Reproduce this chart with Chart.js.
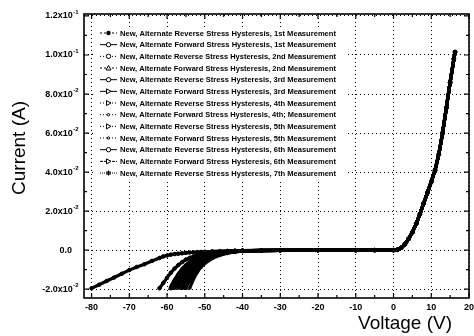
<!DOCTYPE html>
<html><head><meta charset="utf-8">
<script src="https://cdn.jsdelivr.net/npm/chart.js@4.4.1/dist/chart.umd.min.js"></script>
<style>html,body{margin:0;padding:0;background:#fff}</style>
</head><body>
<canvas id="c" width="474" height="336" style="width:474px;height:336px;display:block"></canvas>
<script>
// ---------- DATA ----------
const seriesLabels = [
  'New, Alternate Reverse Stress Hysteresis, 1st Measurement',
  'New, Alternate Forward Stress Hysteresis, 1st Measurement',
  'New, Alternate Reverse Stress Hysteresis, 2nd Measurement',
  'New, Alternate Forward Stress Hysteresis, 2nd Measurement',
  'New, Alternate Reverse Stress Hysteresis, 3rd Measurement',
  'New, Alternate Forward Stress Hysteresis, 3rd Measurement',
  'New, Alternate Reverse Stress Hysteresis, 4th Measurement',
  'New, Alternate Forward Stress Hysteresis, 4th; Measurement',
  'New, Alternate Reverse Stress Hysteresis, 5th Measurement',
  'New, Alternate Forward Stress Hysteresis, 5th Measurement',
  'New, Alternate Reverse Stress Hysteresis, 6th Measurement',
  'New, Alternate Forward Stress Hysteresis, 6th Measurement',
  'New, Alternate Reverse Stress Hysteresis, 7th Measurement'
];
const xTickValues = [-80,-70,-60,-50,-40,-30,-20,-10,0,10,20];
const xTickLabels = ['-80','-70','-60','-50','-40','-30','-20','-10','0','10','20'];
const yTickValues = [-0.02,0,0.02,0.04,0.06,0.08,0.10,0.12];
const yTickMantissa = ['-2.0x10','0.0','2.0x10','4.0x10','6.0x10','8.0x10','1.0x10','1.2x10'];
const yTickExponent = ['-2','','-2','-2','-2','-2','-1','-1'];

// reverse-bias voltages (V)
const reverseVoltage = [-80,-78,-76,-74,-72,-70,-68,-66,-64,-62,-61,-60,-59,-58,-57,-56,-55,-54,-53,-52,-51,-50,-48,-46,-44,-42,-40,-35,-30,-20,-10];
const _ = null;
// reverse-bias currents (A), one array per measurement
const rev01 = [-0.0195,-0.0177,-0.0158,-0.0140,-0.0121,-0.0102,-0.0086,-0.0072,-0.0055,-0.0040,-0.0032,-0.0027,-0.0023,-0.0020,-0.0018,-0.0016,-0.0014,-0.0012,-0.0011,-0.0010,-0.0009,-0.0008,-0.0006,-0.0005,-0.0004,-0.0003,-0.0002,-0.0001,-0.00006,-0.00003,-0.00001];
const rev02 = [_,_,_,_,_,_,_,_,_,-0.0195,-0.0168,-0.0142,-0.0116,-0.0094,-0.0076,-0.0061,-0.0048,-0.0039,-0.0032,-0.0026,-0.0021,-0.0017,-0.0011,-0.0007,-0.0005,-0.0003,-0.0002,-0.0001,-0.00005,-0.00002,-0.00001];
const rev03 = [_,_,_,_,_,_,_,_,_,_,_,_,-0.0195,-0.0158,-0.0126,-0.0099,-0.0078,-0.0062,-0.0049,-0.0039,-0.0032,-0.0026,-0.0017,-0.0011,-0.0007,-0.0004,-0.0003,-0.0001,-0.00005,-0.00002,-0.00001];
const rev04 = [_,_,_,_,_,_,_,_,_,_,_,_,_,-0.0195,-0.0152,-0.0119,-0.0093,-0.0073,-0.0058,-0.0046,-0.0037,-0.0030,-0.0019,-0.0012,-0.0008,-0.0005,-0.0003,-0.0001,-0.00005,-0.00002,-0.00001];
const rev05 = [_,_,_,_,_,_,_,_,_,_,_,_,_,-0.0190,-0.0160,-0.0130,-0.0104,-0.0082,-0.0064,-0.0050,-0.0040,-0.0032,-0.0020,-0.0013,-0.0008,-0.0005,-0.0003,-0.0001,-0.00005,-0.00002,-0.00001];
const rev06 = [_,_,_,_,_,_,_,_,_,_,_,_,_,_,-0.0195,-0.0155,-0.0122,-0.0095,-0.0075,-0.0059,-0.0047,-0.0038,-0.0024,-0.0015,-0.0009,-0.0006,-0.0004,-0.0002,-0.00008,-0.00003,-0.00001];
const rev07 = [_,_,_,_,_,_,_,_,_,_,_,_,_,_,-0.0185,-0.0160,-0.0132,-0.0106,-0.0084,-0.0066,-0.0052,-0.0041,-0.0026,-0.0016,-0.0010,-0.0006,-0.0004,-0.0002,-0.00008,-0.00003,-0.00001];
const rev08 = [_,_,_,_,_,_,_,_,_,_,_,_,_,_,_,-0.0195,-0.0152,-0.0118,-0.0092,-0.0072,-0.0057,-0.0046,-0.0029,-0.0018,-0.0011,-0.0007,-0.0004,-0.0002,-0.00008,-0.00003,-0.00001];
const rev09 = [_,_,_,_,_,_,_,_,_,_,_,_,_,_,_,-0.0190,-0.0158,-0.0127,-0.0101,-0.0080,-0.0063,-0.0050,-0.0031,-0.0019,-0.0012,-0.0007,-0.0004,-0.0002,-0.00008,-0.00003,-0.00001];
const rev10 = [_,_,_,_,_,_,_,_,_,_,_,_,_,_,_,_,-0.0195,-0.0150,-0.0116,-0.0090,-0.0071,-0.0056,-0.0035,-0.0022,-0.0013,-0.0008,-0.0005,-0.0002,-0.0001,-0.00003,-0.00001];
const rev11 = [_,_,_,_,_,_,_,_,_,_,_,_,_,_,_,_,-0.0188,-0.0155,-0.0124,-0.0098,-0.0077,-0.0061,-0.0038,-0.0023,-0.0014,-0.0008,-0.0005,-0.0002,-0.0001,-0.00003,-0.00001];
const rev12 = [_,_,_,_,_,_,_,_,_,_,_,_,-0.0185,-0.0150,-0.0120,-0.0095,-0.0075,-0.0059,-0.0047,-0.0038,-0.0031,-0.0025,-0.0016,-0.0010,-0.0006,-0.0004,-0.0003,-0.0001,-0.00005,-0.00002,-0.00001];
const rev13 = [_,_,_,_,_,_,_,_,_,_,_,_,_,_,_,_,_,-0.0195,-0.0148,-0.0113,-0.0087,-0.0068,-0.0042,-0.0026,-0.0015,-0.0009,-0.0005,-0.0002,-0.0001,-0.00003,-0.00001];
const reverseCurrents = [rev01,rev02,rev03,rev04,rev05,rev06,rev07,rev08,rev09,rev10,rev11,rev12,rev13];

// forward-bias branch (common to all measurements, they overlap)
const forwardVoltage = [-5,0,1,2,3,4,5,6,7,8,9,10,11,12,13,14,15,16,16.3];
const forwardCurrent = [0,0,0.0002,0.0012,0.0030,0.0058,0.0092,0.0135,0.0185,0.0240,0.0295,0.0350,0.0410,0.0490,0.0600,0.0730,0.0860,0.0980,0.1015];

// ---------- STYLE ----------
const legendStyles = [
  {dash:[2,2], marker:'dotF'},
  {dash:[],    marker:'circle'},
  {dash:[1,2], marker:'circle'},
  {dash:[2,2], marker:'triUp'},
  {dash:[],    marker:'circle'},
  {dash:[],    marker:'triR'},
  {dash:[1,2], marker:'triR'},
  {dash:[1,2], marker:'small'},
  {dash:[1,2], marker:'triR'},
  {dash:[1,2], marker:'small'},
  {dash:[],    marker:'circle'},
  {dash:[3,1], marker:'triR'},
  {dash:[1,1], marker:'star'}
];
const pointStyles = ['circle','circle','circle','triangle','circle','triangle','triangle','rect','triangle','rect','circle','triangle','star'];

const datasets = seriesLabels.map((label, k) => {
  const rev = reverseCurrents[k];
  const pts = [];
  reverseVoltage.forEach((v, i) => { if (rev[i] !== null) pts.push({x: v, y: rev[i]}); });
  forwardVoltage.forEach((v, i) => pts.push({x: v, y: forwardCurrent[i]}));
  return {
    label, data: pts,
    borderColor: '#000', backgroundColor: '#000', borderWidth: 3.2,
    pointStyle: pointStyles[k], pointRadius: 1.8, pointBorderWidth: 1,
    pointBorderColor: '#000', pointBackgroundColor: '#000',
    tension: 0, fill: false
  };
});

function drawMarker(ctx, type, x, y) {
  ctx.save();
  ctx.setLineDash([]);
  ctx.lineWidth = 1;
  ctx.strokeStyle = '#000';
  ctx.fillStyle = '#fff';
  ctx.beginPath();
  if (type === 'dotF') { ctx.fillStyle = '#000'; ctx.arc(x, y, 2.2, 0, Math.PI*2); ctx.fill(); }
  else if (type === 'circle') { ctx.arc(x, y, 2.2, 0, Math.PI*2); ctx.fill(); ctx.stroke(); }
  else if (type === 'triUp') { ctx.moveTo(x, y-2.5); ctx.lineTo(x+2.5, y+2); ctx.lineTo(x-2.5, y+2); ctx.closePath(); ctx.fill(); ctx.stroke(); }
  else if (type === 'triR') { ctx.moveTo(x+2.5, y); ctx.lineTo(x-2, y-2.5); ctx.lineTo(x-2, y+2.5); ctx.closePath(); ctx.fill(); ctx.stroke(); }
  else if (type === 'small') { ctx.arc(x, y, 1.2, 0, Math.PI*2); ctx.fill(); ctx.stroke(); }
  else if (type === 'star') { ctx.moveTo(x-2.5,y); ctx.lineTo(x+2.5,y); ctx.moveTo(x,y-2.5); ctx.lineTo(x,y+2.5); ctx.moveTo(x-2,y-2); ctx.lineTo(x+2,y+2); ctx.moveTo(x+2,y-2); ctx.lineTo(x-2,y+2); ctx.stroke(); }
  ctx.restore();
}

const decor = {
  id: 'decor',
  afterDraw(chart) {
    const ctx = chart.ctx;
    const a = chart.chartArea;
    const xs = chart.scales.x, ys = chart.scales.y;
    ctx.save();
    // frame
    ctx.strokeStyle = '#000';
    ctx.lineWidth = 1.6;
    ctx.setLineDash([]);
    ctx.strokeRect(a.left, a.top, a.right - a.left, a.bottom - a.top);
    // inward ticks
    ctx.lineWidth = 1.2;
    ctx.beginPath();
    for (let v = -80; v <= 20; v += 5) {
      const px = xs.getPixelForValue(v);
      const len = (v % 10 === 0) ? 5 : 3;
      ctx.moveTo(px, a.bottom); ctx.lineTo(px, a.bottom - len);
      ctx.moveTo(px, a.top); ctx.lineTo(px, a.top + len);
    }
    for (let i = -2; i <= 12; i++) {
      const py = ys.getPixelForValue(i / 100);
      const len = (i % 2 === 0) ? 5 : 3;
      ctx.moveTo(a.left, py); ctx.lineTo(a.left + len, py);
      ctx.moveTo(a.right, py); ctx.lineTo(a.right - len, py);
    }
    ctx.stroke();

    ctx.fillStyle = '#000';
    // x tick labels
    ctx.font = 'bold 9px Arial, "Liberation Sans", sans-serif';
    ctx.textAlign = 'center';
    ctx.textBaseline = 'middle';
    xTickValues.forEach((v, i) => ctx.fillText(xTickLabels[i], xs.getPixelForValue(v), a.bottom + 10));
    // y tick labels with superscript exponent
    yTickValues.forEach((v, i) => {
      const py = ys.getPixelForValue(v);
      const main = yTickMantissa[i], ex = yTickExponent[i];
      ctx.font = 'bold 9px Arial, "Liberation Sans", sans-serif';
      const wm = ctx.measureText(main).width;
      ctx.font = 'bold 6px Arial, "Liberation Sans", sans-serif';
      const we = ex ? ctx.measureText(ex).width : 0;
      const right = ex ? a.left - 6 : a.left - 12;
      const x0 = right - wm - we;
      ctx.textAlign = 'left';
      ctx.textBaseline = 'middle';
      ctx.font = 'bold 9px Arial, "Liberation Sans", sans-serif';
      ctx.fillText(main, x0, py);
      if (ex) { ctx.font = 'bold 6px Arial, "Liberation Sans", sans-serif'; ctx.fillText(ex, x0 + wm + 0.5, py - 4); }
    });
    // axis titles
    ctx.font = '19px Arial, "Liberation Sans", sans-serif';
    ctx.textAlign = 'center';
    ctx.textBaseline = 'alphabetic';
    ctx.fillText('Voltage (V)', 405, 329);
    ctx.save();
    ctx.translate(25, 148);
    ctx.rotate(-Math.PI / 2);
    ctx.fillText('Current (A)', 0, 0);
    ctx.restore();

    // legend box
    ctx.fillStyle = '#fff';
    ctx.fillRect(95, 27, 250, 152);
    const y0 = 33, dy = 11.67;
    chart.data.datasets.forEach((ds, k) => {
      const y = y0 + k * dy;
      const st = legendStyles[k];
      ctx.save();
      ctx.strokeStyle = '#000';
      ctx.lineWidth = 1;
      ctx.setLineDash(st.dash);
      ctx.beginPath(); ctx.moveTo(100, y); ctx.lineTo(117, y); ctx.stroke();
      ctx.restore();
      drawMarker(ctx, st.marker, 108.5, y);
      ctx.save();
      ctx.fillStyle = '#000';
      ctx.font = 'bold 8px Arial, "Liberation Sans", sans-serif';
      ctx.textAlign = 'left';
      ctx.textBaseline = 'middle';
      const w = ctx.measureText(ds.label).width;
      const target = 216;
      ctx.translate(120, y);
      ctx.scale(Math.min(1, target / w), 1);
      ctx.fillText(ds.label, 0, 0.5);
      ctx.restore();
    });
    ctx.restore();
  }
};

new Chart(document.getElementById('c'), {
  type: 'line',
  data: { datasets },
  options: {
    responsive: false,
    animation: false,
    devicePixelRatio: 1,
    layout: { padding: { left: 84, right: 4, top: 14, bottom: 38 } },
    plugins: { legend: { display: false }, tooltip: { enabled: false } },
    scales: {
      x: {
        type: 'linear', min: -82, max: 20,
        ticks: { display: false, stepSize: 10, includeBounds: false },
        grid: { color: '#000', lineWidth: 1, drawTicks: false },
        border: { display: false, dash: [1, 3] }
      },
      y: {
        type: 'linear', min: -0.0245, max: 0.121,
        ticks: { display: false, stepSize: 0.02, includeBounds: false },
        grid: { color: '#000', lineWidth: 1, drawTicks: false },
        border: { display: false, dash: [1, 3] }
      }
    }
  },
  plugins: [decor]
});
</script>
</body></html>
